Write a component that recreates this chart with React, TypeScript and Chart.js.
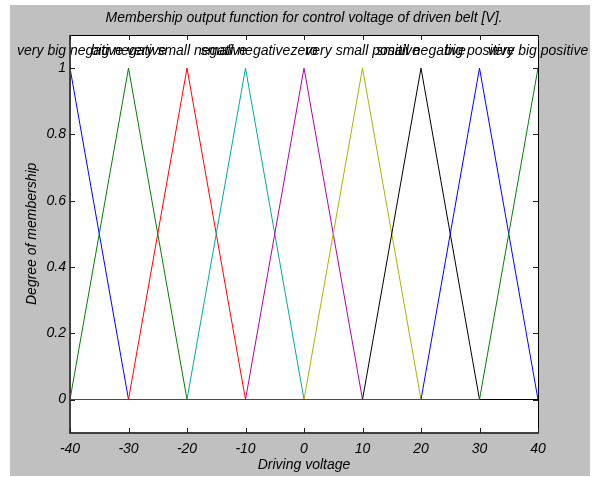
import React, { useEffect, useRef } from "react";
import { Chart, registerables } from "chart.js";

Chart.register(...registerables);

const chartTitle = "Membership output function for control voltage of driven belt [V].";
const xTitle = "Driving voltage";
const yTitle = "Degree of membership";

const xTicks = [-40, -30, -20, -10, 0, 10, 20, 30, 40];
const yTicks = [0, 0.2, 0.4, 0.6, 0.8, 1];

const mfNames = [
  "very big negative",
  "big negative",
  "very small negative",
  "small negative",
  "zero",
  "very small positive",
  "small negative",
  "big positive",
  "very big positive",
];
// triangular membership function parameters [a, b, c]
const mfA = [-50, -40, -30, -20, -10, 0, 10, 20, 30];
const mfB = [-40, -30, -20, -10, 0, 10, 20, 30, 40];
const mfC = [-30, -20, -10, 0, 10, 20, 30, 40, 50];
const mfColors = [
  "#0000ff",
  "#008000",
  "#ff0000",
  "#00a8a8",
  "#b000b0",
  "#b0b000",
  "#000000",
  "#0000ff",
  "#008000",
];

const X_MIN = -40;
const X_MAX = 40;

function trimf(x: number, a: number, b: number, c: number) {
  if (x <= a || x >= c) return x === b ? 1 : 0;
  if (x <= b) return b === a ? 1 : (x - a) / (b - a);
  return c === b ? 1 : (c - x) / (c - b);
}

const FONT_FAMILY = "'Liberation Sans', Arial, sans-serif";
const FONT_SIZE = 14;
const font = { family: FONT_FAMILY, size: FONT_SIZE, style: "italic" as const };
const fontStr = `italic ${FONT_SIZE}px ${FONT_FAMILY}`;

const decorPlugin = {
  id: "decor",
  beforeDraw(chart: any) {
    const { ctx, chartArea: ca, width, height } = chart;
    ctx.save();
    ctx.fillStyle = "#ffffff";
    ctx.fillRect(0, 0, width, height);
    ctx.fillStyle = "#c0c0c0";
    ctx.fillRect(10, 5, 580, 471);
    ctx.fillStyle = "#ffffff";
    ctx.fillRect(ca.left, ca.top, ca.right - ca.left, ca.bottom - ca.top);
    // title
    ctx.fillStyle = "#000000";
    ctx.font = fontStr;
    ctx.textAlign = "center";
    ctx.textBaseline = "middle";
    ctx.fillText(chartTitle, (ca.left + ca.right) / 2, 18);
    ctx.restore();
  },
  afterDatasetsDraw(chart: any) {
    const { ctx, chartArea: ca, scales } = chart;
    const xs = scales.x;
    const ys = scales.y;
    const L = Math.round(ca.left);
    const R = Math.round(ca.right);
    const T = Math.round(ca.top);
    const B = Math.round(ca.bottom);
    ctx.save();
    // membership labels
    ctx.fillStyle = "#000000";
    ctx.font = fontStr;
    ctx.textAlign = "center";
    ctx.textBaseline = "middle";
    mfNames.forEach((name, i) => {
      ctx.fillText(name, xs.getPixelForValue(mfB[i]), ys.getPixelForValue(1.05));
    });
    // axes box
    ctx.strokeStyle = "#000000";
    ctx.lineWidth = 1;
    ctx.beginPath();
    ctx.moveTo(L, T + 0.5);
    ctx.lineTo(R + 0.5, T + 0.5);
    ctx.lineTo(R + 0.5, B);
    ctx.stroke();
    ctx.strokeStyle = "#404040";
    ctx.lineWidth = 2;
    ctx.beginPath();
    ctx.moveTo(L, T);
    ctx.lineTo(L, B);
    ctx.lineTo(R + 1, B);
    ctx.stroke();
    // inside ticks
    ctx.strokeStyle = "#202020";
    ctx.lineWidth = 1;
    ctx.beginPath();
    xTicks.forEach((v) => {
      const px = Math.round(xs.getPixelForValue(v)) + 0.5;
      ctx.moveTo(px, B);
      ctx.lineTo(px, B - 5);
      ctx.moveTo(px, T);
      ctx.lineTo(px, T + 5);
    });
    yTicks.forEach((v) => {
      const py = Math.round(ys.getPixelForValue(v)) + 0.5;
      ctx.moveTo(L, py);
      ctx.lineTo(L + 5, py);
      ctx.moveTo(R, py);
      ctx.lineTo(R - 5, py);
    });
    ctx.stroke();
    ctx.restore();
  },
};

export default function App() {
  const ref = useRef<HTMLCanvasElement>(null);
  useEffect(() => {
    document.body.style.margin = "0";
    const canvas = ref.current;
    if (!canvas) return;
    const datasets = mfNames.map((name, i) => {
      const pts = [X_MIN, mfA[i], mfB[i], mfC[i], X_MAX]
        .filter((x) => x >= X_MIN && x <= X_MAX)
        .filter((x, k, arr) => arr.indexOf(x) === k)
        .sort((p, q) => p - q)
        .map((x) => ({ x, y: trimf(x, mfA[i], mfB[i], mfC[i]) }));
      return {
        label: name,
        data: pts,
        borderColor: mfColors[i],
        backgroundColor: mfColors[i],
        borderWidth: 1,
        pointRadius: 0,
        tension: 0,
        fill: false,
        order: -i,
      };
    });
    const chart = new Chart(canvas, {
      type: "line",
      data: { datasets },
      plugins: [decorPlugin],
      options: {
        animation: false,
        responsive: false,
        devicePixelRatio: 1,
        layout: { padding: { top: 35, right: 57, left: 0, bottom: 0 } },
        plugins: {
          legend: { display: false },
          tooltip: { enabled: false },
          title: { display: false },
        },
        scales: {
          x: {
            type: "linear",
            min: X_MIN,
            max: X_MAX,
            afterBuildTicks: (s: any) => {
              s.ticks = xTicks.map((v) => ({ value: v }));
            },
            afterFit: (s: any) => {
              s.height = 44.36;
            },
            grid: { display: false, drawTicks: false, tickLength: 0 },
            border: { display: false },
            ticks: {
              font,
              color: "#000000",
              padding: 8,
              maxRotation: 0,
              autoSkip: false,
              callback: (v: any) => String(v),
            },
            title: {
              display: true,
              text: xTitle,
              font,
              color: "#000000",
              padding: { top: 0, bottom: 3 },
            },
          },
          y: {
            type: "linear",
            min: -0.1,
            max: 1.1,
            afterBuildTicks: (s: any) => {
              s.ticks = yTicks.map((v) => ({ value: v }));
            },
            afterFit: (s: any) => {
              s.width = 70;
            },
            grid: { display: false, drawTicks: false, tickLength: 0 },
            border: { display: false },
            ticks: {
              font,
              color: "#000000",
              padding: 4,
              autoSkip: false,
              callback: (v: any) => String(Math.round(Number(v) * 10) / 10),
            },
            title: {
              display: true,
              text: yTitle,
              font,
              color: "#000000",
              padding: { top: 24, bottom: 0 },
            },
          },
        },
      },
    } as any);
    return () => chart.destroy();
  }, []);
  return <canvas ref={ref} width={595} height={477} style={{ display: "block" }} />;
}
